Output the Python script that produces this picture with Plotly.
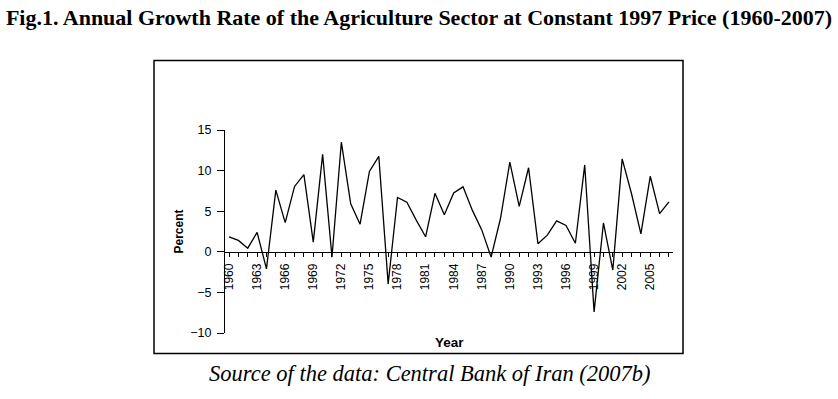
import plotly.graph_objects as go

years = list(range(1960, 2008))
growth = [1.85, 1.4, 0.45, 2.4, -2.1, 7.6, 3.6, 8.05, 9.5, 1.2,
          12.0, -0.65, 13.5, 5.9, 3.4, 9.9, 11.75, -3.95, 6.7, 6.1,
          3.9, 1.85, 7.2, 4.55, 7.25, 8.0, 5.1, 2.7, -0.65, 4.1,
          11.05, 5.6, 10.35, 1.0, 2.05, 3.8, 3.25, 1.05, 10.7, -7.4,
          3.55, -2.25, 11.45, 7.15, 2.2, 9.3, 4.7, 6.15]
y_ticks = [-10, -5, 0, 5, 10, 15]

W, H = 838, 399
L, R, T, B = 225, 673, 130, 333  # plot area in pixels


def px(x):
    return (x - L) / (R - L)


def py(y):
    return (B - y) / (B - T)


fig = go.Figure()
fig.add_trace(go.Scatter(x=years, y=growth, mode="lines",
                         line=dict(color="black", width=1.3),
                         showlegend=False, hoverinfo="x+y"))

fig.update_layout(
    width=W, height=H,
    margin=dict(l=L, r=W - R, t=T, b=H - B, pad=0),
    paper_bgcolor="white", plot_bgcolor="white",
    font=dict(family="Liberation Sans, Arial, sans-serif", color="black", size=12),
    title=dict(text="<b>Fig.1. Annual Growth Rate of the Agriculture Sector at Constant 1997 Price (1960-2007)</b>",
               font=dict(family="Liberation Serif, Times New Roman, serif", size=22, color="black"),
               xref="container", x=0.5, xanchor="center",
               yref="container", y=1 - 17 / H, yanchor="middle"),
    xaxis=dict(range=[1959.57, 2007.43], anchor="free", position=10 / 25,
               showline=True, linecolor="black", linewidth=1,
               showgrid=False, zeroline=False,
               ticks="outside", ticklen=4, tickwidth=1, tickcolor="black",
               tick0=1960, dtick=3, tickangle=-90, ticklabelstandoff=2,
               tickfont=dict(size=12),
               minor=dict(dtick=1, tick0=1960, ticks="outside", ticklen=4,
                          tickwidth=1, tickcolor="black", showgrid=False)),
    yaxis=dict(range=[-10, 15], tickvals=y_ticks,
               showline=True, linecolor="black", linewidth=1,
               showgrid=False, zeroline=False,
               ticks="outside", ticklen=7, tickwidth=1, tickcolor="black",
               ticklabelstandoff=3,
               tickfont=dict(size=12.5)),
    shapes=[dict(type="rect", xref="paper", yref="paper",
                 x0=px(154), x1=px(683), y0=py(353.5), y1=py(60.5),
                 line=dict(color="black", width=1.5), fillcolor="rgba(0,0,0,0)",
                 layer="below")],
    annotations=[
        dict(text="<b>Year</b>", xref="paper", yref="paper", x=px(449), y=py(342),
             showarrow=False, xanchor="center", yanchor="middle",
             font=dict(size=13.5)),
        dict(text="<b>Percent</b>", xref="paper", yref="paper", x=px(178), y=py(231.5),
             showarrow=False, textangle=-90, xanchor="center", yanchor="middle",
             font=dict(size=12)),
        dict(text="<i>Source of the data: Central Bank of Iran (2007b)</i>",
             xref="paper", yref="paper", x=px(430), y=py(373),
             showarrow=False, xanchor="center", yanchor="middle",
             font=dict(family="Liberation Serif, Times New Roman, serif", size=22.5)),
    ],
)

fig.write_html("out.html", config={"displayModeBar": False},
               post_script="document.body.style.margin='0';document.body.style.padding='0';")
